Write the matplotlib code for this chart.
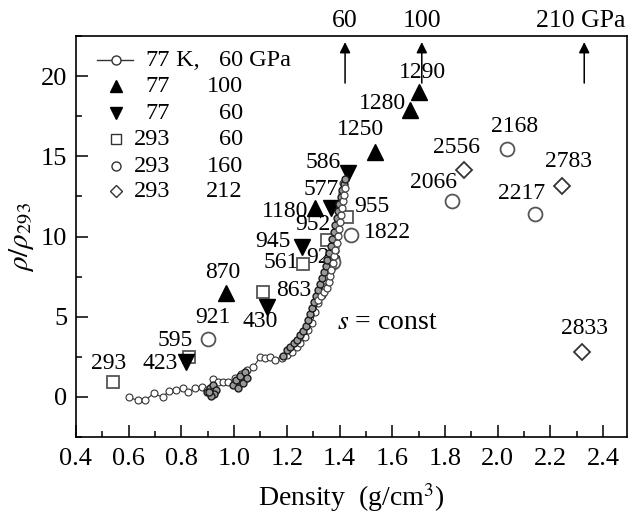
import numpy as np
import matplotlib.pyplot as plt

plt.rcParams['font.family'] = ['Liberation Serif', 'DejaVu Serif']
plt.rcParams['mathtext.fontset'] = 'stix'

# 77 K, 60 GPa run (small circles joined by a line)
curve_x = [0.600, 0.634, 0.664, 0.695, 0.729, 0.752, 0.778, 0.805, 0.827, 0.853,
           0.880, 0.899, 0.922, 0.940, 0.959, 0.978, 1.005, 1.027, 1.050, 1.073,
           1.099, 1.118, 1.137, 1.156, 1.182, 1.201, 1.220, 1.239, 1.251, 1.270,
           1.281, 1.296, 1.307, 1.318, 1.333, 1.345, 1.356, 1.371, 1.375, 1.383,
           1.390, 1.394, 1.402, 1.409, 1.413]
curve_y = [-0.02, -0.21, -0.21, 0.23, -0.02, 0.36, 0.42, 0.54, 0.29, 0.54,
           0.61, 0.42, 1.11, 0.92, 0.92, 0.92, 1.17, 1.42, 1.67, 1.86,
           2.48, 2.42, 2.48, 2.29, 2.42, 2.61, 2.79, 3.11, 3.36, 3.73,
           4.17, 4.61, 5.29, 5.86, 6.36, 6.86, 7.48, 8.11, 8.73, 9.36,
           10.23, 11.04, 11.86, 12.73, 13.36]

# repeated passes of the same run (dense dark strands)
pass2_x = [0.997, 1.009, 1.016, 1.024, 1.035, 1.043, 1.050]
pass2_y = [0.73, 1.04, 0.54, 1.29, 0.86, 1.54, 1.17]
pass3_x = [1.186, 1.201, 1.213, 1.228, 1.239, 1.251, 1.262, 1.273, 1.281, 1.288,
           1.296, 1.304, 1.311, 1.319, 1.326, 1.334, 1.341, 1.349, 1.353, 1.360,
           1.368, 1.372, 1.379, 1.383, 1.390, 1.394, 1.398, 1.406, 1.409, 1.417, 1.421]
pass3_y = [2.54, 2.92, 3.11, 3.36, 3.54, 3.86, 4.11, 4.42, 4.79, 5.17,
           5.54, 5.92, 6.29, 6.67, 7.04, 7.42, 7.79, 8.17, 8.54, 8.98,
           9.42, 9.86, 10.29, 10.73, 11.17, 11.61, 12.04, 12.48, 12.92, 13.29, 13.61]
pass4_x = [1.319, 1.330, 1.341, 1.353, 1.360, 1.364, 1.368, 1.375, 1.379, 1.383,
           1.390, 1.394, 1.398, 1.402, 1.406, 1.409, 1.413, 1.417, 1.421]
pass4_y = [6.04, 6.29, 6.54, 6.79, 7.17, 7.54, 7.92, 8.36, 8.79, 9.17,
           9.61, 10.04, 10.48, 10.92, 11.36, 11.79, 12.23, 12.61, 13.04]
pass5_x = [0.899, 0.910, 0.922, 0.933, 0.925, 0.914, 0.906]
pass5_y = [0.29, 0.54, 0.73, 0.42, 0.17, 0.04, 0.29]

# 77 K, 100 GPa
up_x = [0.971, 1.307, 1.534, 1.667, 1.701]
up_y = [6.48, 11.79, 15.29, 17.92, 19.04]
up_lab = ['870', '1180', '1250', '1280', '1290']

# 77 K, 60 GPa
down_x = [0.819, 1.126, 1.258, 1.368, 1.432]
down_y = [2.17, 5.61, 9.36, 11.79, 13.98]
down_lab = ['423', '430', '945', '577', '586']

# 293 K, 60 GPa
sq_x = [0.540, 0.831, 1.111, 1.262, 1.353, 1.428]
sq_y = [0.92, 2.48, 6.54, 8.29, 9.79, 11.23]
sq_lab = ['293', '595', '863', '561', '952', '955']

# 293 K, 160 GPa
circ_x = [0.903, 1.375, 1.443, 1.825, 2.037, 2.143]
circ_y = [3.61, 8.42, 10.11, 12.23, 15.48, 11.42]
circ_lab = ['921', '923', '1822', '2066', '2168', '2217']

# 293 K, 212 GPa
dia_x = [1.871, 2.242, 2.321]
dia_y = [14.17, 13.17, 2.79]
dia_lab = ['2556', '2783', '2833']

# pressure arrows on top
arrow_x = [1.421, 1.712, 2.328]
arrow_lab = ['60', '100', '210 GPa']

# label offsets (pixels)
up_off = [(-4, 21), (-30, -4), (-14, 22), (-27, 6), (4, 19)]
down_off = [(-26, -1), (-7, -15), (-29, 5), (-10, 18), (-25, 10)]
sq_off = [(-4, 19), (-14, 17), (30, 2), (-22, 2), (-14, 15), (25, 10)]
circ_off = [(4, 22), (-9, 4), (37, 2), (-18, 18), (7, 22), (-14, 20)]
dia_off = [(-7, 22), (7, 24), (2, 24)]

gray = '#555555'
fig = plt.figure(figsize=(6.32, 5.16), dpi=100)
ax = fig.add_axes([0.120, 0.153, 0.872, 0.777])

ax.plot(curve_x, curve_y, marker='o', ms=5, mfc='white', mew=0.8, lw=0.8,
        color='#333333', zorder=4)
ax.plot(pass2_x, pass2_y, marker='o', ms=5, mfc='#999999', mew=1.0, lw=0.8, color='#1a1a1a', zorder=4)
ax.plot(pass3_x, pass3_y, marker='o', ms=5, mfc='#999999', mew=1.0, lw=0.8, color='#1a1a1a', zorder=4)
ax.plot(pass4_x, pass4_y, marker='o', ms=5, mfc='white', mew=0.9, lw=0.8, color='#444444', zorder=4)
ax.plot(pass5_x, pass5_y, marker='o', ms=5, mfc='#999999', mew=1.0, lw=0.8, color='#1a1a1a', zorder=4)

ax.plot(up_x, up_y, '^', ms=11, color='black', zorder=3)
ax.plot(down_x, down_y, 'v', ms=11, color='black', zorder=3)
ax.plot(sq_x, sq_y, 's', ms=9, mfc='white', mec=gray, mew=1.3, zorder=2)
ax.plot(circ_x, circ_y, 'o', ms=10, mfc='white', mec=gray, mew=1.3, zorder=2)
ax.plot(dia_x, dia_y, 'D', ms=8.5, mfc='white', mec='#333333', mew=1.3, zorder=2)

for xs, ys, labs, offs in [(up_x, up_y, up_lab, up_off), (down_x, down_y, down_lab, down_off),
                           (sq_x, sq_y, sq_lab, sq_off), (circ_x, circ_y, circ_lab, circ_off),
                           (dia_x, dia_y, dia_lab, dia_off)]:
    for x, y, t, o in zip(xs, ys, labs, offs):
        ax.annotate(t, (x, y), xytext=o, textcoords='offset pixels',
                    ha='center', va='center', fontsize=17, zorder=1)

for x, t in zip(arrow_x, arrow_lab):
    ax.annotate('', xy=(x, 22.3), xytext=(x, 19.4),
                arrowprops=dict(arrowstyle='-|>', color='black', lw=1.1, mutation_scale=16))
    ax.text(x - (0.015 if 'GPa' in t else 0), 23.45, t, ha='center', va='center',
            fontsize=18.5, clip_on=False)

ax.text(1.58, 4.67, r'$s$ = const', ha='center', va='center', fontsize=20)

# legend drawn by hand to keep the two aligned columns
rows = [0.940, 0.875, 0.808, 0.743, 0.676, 0.613]
tr = ax.transAxes
ax.plot([0.038, 0.103], [rows[0], rows[0]], color='#333333', lw=1.0, transform=tr)
ax.plot(0.0726, rows[0], 'o', ms=6.5, mfc='white', mec='#333333', mew=1.0, transform=tr)
ax.plot(0.0726, rows[1], '^', ms=9, color='black', transform=tr)
ax.plot(0.0726, rows[2], 'v', ms=9, color='black', transform=tr)
ax.plot(0.0726, rows[3], 's', ms=6.5, mfc='white', mec='#333333', mew=1.0, transform=tr)
ax.plot(0.0726, rows[4], 'o', ms=6.5, mfc='white', mec='#333333', mew=1.0, transform=tr)
ax.plot(0.0726, rows[5], 'D', ms=6, mfc='white', mec='#333333', mew=1.0, transform=tr)
leg_t = ['77', '77', '77', '293', '293', '293']
leg_p = ['60', '100', '60', '60', '160', '212']
for r, a, b in zip(rows, leg_t, leg_p):
    ax.text(0.171, r, a, ha='right', va='center', fontsize=17.5, transform=tr)
    ax.text(0.303, r, b, ha='right', va='center', fontsize=17.5, transform=tr)
ax.text(0.171, rows[0], ' K,', ha='left', va='center', fontsize=17.5, transform=tr)
ax.text(0.303, rows[0], ' GPa', ha='left', va='center', fontsize=17.5, transform=tr)

ax.set_xlim(0.4, 2.49)
ax.set_ylim(-2.5, 22.5)
ax.set_xticks(np.arange(0.4, 2.41, 0.2))
ax.set_xticks(np.arange(0.5, 2.41, 0.1), minor=True)
ax.set_yticks([0, 5, 10, 15, 20])
ax.set_yticks(np.arange(-2.5, 22.6, 2.5), minor=True)
ax.xaxis.set_major_formatter(plt.FormatStrFormatter('%.1f'))
ax.tick_params(which='both', direction='in', top=False, right=False, labelsize=19, width=1.1)
ax.tick_params(axis='x', which='major', length=8.5, pad=8)
ax.tick_params(axis='y', which='major', length=8.5, pad=6)
ax.tick_params(which='minor', length=4.5)
for s in ax.spines.values():
    s.set_linewidth(1.2)

ax.set_xlabel('Density  (g/cm$^{3}$)', fontsize=20, labelpad=8)
ax.set_ylabel(r'$\rho/\rho_{293}$', fontsize=21, labelpad=4)

fig.savefig('out.png', dpi=100)
